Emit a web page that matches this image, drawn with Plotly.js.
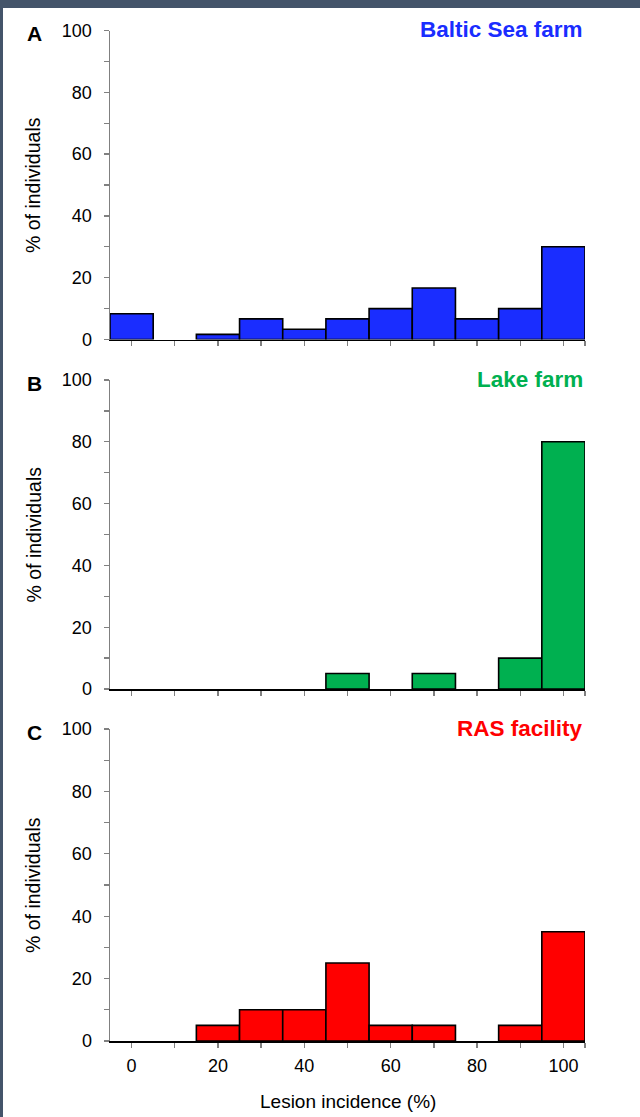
<!DOCTYPE html>
<html>
<head>
<meta charset="utf-8">
<script src="https://cdn.plot.ly/plotly-3.0.1.min.js"></script>
<style>
  html, body { margin: 0; padding: 0; background: #ffffff; }
  #wrap { position: relative; width: 640px; height: 1117px; overflow: hidden; }
  #chart { position: absolute; left: 0; top: 0; width: 640px; height: 1117px; }
  .bar-top { position: absolute; left: 0; top: 0; width: 640px; height: 8px; background: #44546a; }
  .bar-left { position: absolute; left: 0; top: 0; width: 3px; height: 1117px; background: #44546a; }
</style>
</head>
<body>
<div id="wrap">
  <div id="chart"></div>
  <div class="bar-top"></div>
  <div class="bar-left"></div>
</div>
<script>
// Bin centres (lesion incidence, %)
const binCenters = [0, 10, 20, 30, 40, 50, 60, 70, 80, 90, 100];
// % of individuals per bin
const balticValues = [8.33, 0, 1.67, 6.67, 3.33, 6.67, 10, 16.67, 6.67, 10, 30];
const lakeValues   = [0, 0, 0, 0, 0, 5, 0, 5, 0, 10, 80];
const rasValues    = [0, 0, 5, 10, 10, 25, 5, 5, 0, 5, 35];

const panelLetters = ["A", "B", "C"];
const panelTitles = ["Baltic Sea farm", "Lake farm", "RAS facility"];
const panelColors = ["#1a2dff", "#00b050", "#ff0000"];

const yTickVals = [0, 10, 20, 30, 40, 50, 60, 70, 80, 90, 100];
const yTickText = ["0", "", "20", "", "40", "", "60", "", "80", "", "100"];
const xTickVals = [0, 10, 20, 30, 40, 50, 60, 70, 80, 90, 100, 105];
const xTickText = ["0", "", "20", "", "40", "", "60", "", "80", "", "100", ""];

const xTitle = "Lesion incidence (%)";
const yTitle = "% of individuals";

const FONT = "Arial, 'Liberation Sans', sans-serif";

// pixel layout helpers
const L = 110, R = 585, T = 30, B = 1041;
const W = R - L, H = B - T;
const px2x = p => (p - L) / W;
const py2y = p => (B - p) / H;

const panelPx = [[30.5, 339.5], [380, 689], [729, 1041]]; // [top, bottom]
const series = [balticValues, lakeValues, rasValues];

const traces = series.map((vals, i) => ({
  type: "bar",
  x: binCenters,
  y: vals.map(v => (v === 0 ? null : v)),
  width: 10,
  xaxis: i === 0 ? "x" : "x" + (i + 1),
  yaxis: i === 0 ? "y" : "y" + (i + 1),
  marker: { color: panelColors[i], line: { color: "#000000", width: 1.6 } },
  hoverinfo: "skip",
  showlegend: false
}));

const layout = {
  width: 640, height: 1117,
  margin: { l: L, r: 640 - R, t: T, b: 1117 - B, pad: 0 },
  paper_bgcolor: "#ffffff",
  plot_bgcolor: "#ffffff",
  font: { family: FONT, color: "#000000", size: 18 },
  bargap: 0,
  showlegend: false,
  annotations: []
};

panelPx.forEach((p, i) => {
  const n = i === 0 ? "" : String(i + 1);
  const yd = [py2y(p[1]), py2y(p[0])];
  layout["xaxis" + n] = {
    domain: [0, 1],
    anchor: "y" + n,
    range: [-5, 105],
    tickmode: "array",
    tickvals: xTickVals,
    ticktext: i === 2 ? xTickText : xTickVals.map(() => ""),
    ticks: "outside",
    ticklen: 5,
    tickwidth: 1.3,
    tickcolor: "#808080",
    showline: true,
    linecolor: "#000000",
    linewidth: 1.5,
    showgrid: false,
    zeroline: false,
    fixedrange: true,
    tickfont: { family: FONT, size: 18, color: "#000000" },
    ticklabelstandoff: 3
  };
  layout["yaxis" + n] = {
    domain: yd,
    anchor: "x" + n,
    range: [0, 100],
    tickmode: "array",
    tickvals: yTickVals,
    ticktext: yTickText,
    ticks: "outside",
    ticklen: 5,
    tickwidth: 1.3,
    tickcolor: "#808080",
    showline: true,
    linecolor: "#808080",
    linewidth: 1.5,
    showgrid: false,
    zeroline: false,
    fixedrange: true,
    tickfont: { family: FONT, size: 18, color: "#000000" },
    ticklabelstandoff: 8
  };
  // panel letter
  layout.annotations.push({
    text: "<b>" + panelLetters[i] + "</b>",
    xref: "paper", yref: "paper",
    x: px2x(34), y: py2y(p[0] + 3),
    xanchor: "center", yanchor: "middle",
    showarrow: false,
    font: { family: FONT, size: 21, color: "#000000" }
  });
  // panel title
  layout.annotations.push({
    text: "<b>" + panelTitles[i] + "</b>",
    xref: "paper", yref: "paper",
    x: 1, y: py2y(p[0] - 1),
    xanchor: "right", yanchor: "middle",
    showarrow: false,
    font: { family: FONT, size: 22.5, color: panelColors[i] }
  });
  // y title
  layout.annotations.push({
    text: yTitle,
    xref: "paper", yref: "paper",
    x: px2x(33), y: py2y((p[0] + p[1]) / 2),
    xanchor: "center", yanchor: "middle",
    textangle: -90,
    showarrow: false,
    font: { family: FONT, size: 19.5, color: "#000000" }
  });
});

layout.annotations.push({
  text: xTitle,
  xref: "paper", yref: "paper",
  x: px2x(348), y: py2y(1101),
  xanchor: "center", yanchor: "middle",
  showarrow: false,
  font: { family: FONT, size: 19, color: "#000000" }
});

Plotly.newPlot("chart", traces, layout, { staticPlot: true, displayModeBar: false });
</script>
</body>
</html>
